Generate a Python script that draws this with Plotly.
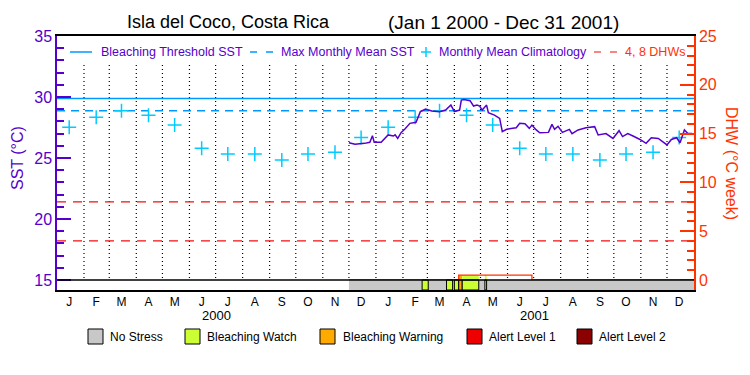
import plotly.graph_objects as go

# ---------------- data ----------------
sst_dates = ['2000-12-01', '2000-12-08', '2000-12-19', '2000-12-25', '2000-12-28', '2000-12-30',
             '2001-01-07', '2001-01-15', '2001-01-21', '2001-01-23', '2001-01-26', '2001-01-30',
             '2001-02-03', '2001-02-09', '2001-02-16', '2001-02-21', '2001-02-27', '2001-03-06',
             '2001-03-15', '2001-03-22', '2001-03-28', '2001-04-01', '2001-04-07', '2001-04-09',
             '2001-04-12', '2001-04-19', '2001-04-23', '2001-04-27', '2001-04-30', '2001-05-03',
             '2001-05-08', '2001-05-10', '2001-05-17', '2001-05-23', '2001-05-26', '2001-05-31',
             '2001-06-07', '2001-06-11', '2001-06-15', '2001-06-21', '2001-06-26', '2001-06-29',
             '2001-07-04', '2001-07-08', '2001-07-18', '2001-07-22', '2001-07-25', '2001-07-29',
             '2001-08-03', '2001-08-11', '2001-08-14', '2001-08-21', '2001-08-30', '2001-09-09',
             '2001-09-13', '2001-09-22', '2001-09-30', '2001-10-07', '2001-10-11', '2001-10-17',
             '2001-10-23', '2001-10-31', '2001-11-07', '2001-11-13', '2001-11-21', '2001-12-01',
             '2001-12-06', '2001-12-12', '2001-12-16', '2001-12-21', '2001-12-25', '2001-12-30']
sst_values = [26.25, 26.12, 26.20, 26.29, 26.83, 26.29,
              26.29, 26.89, 26.80, 26.90, 26.60, 27.10,
              27.35, 27.84, 27.93, 28.80, 29.02, 28.85,
              28.80, 28.93, 29.34, 28.80, 28.93, 29.75,
              29.80, 29.70, 29.26, 29.34, 29.26, 28.93,
              29.34, 28.71, 28.52, 28.25, 27.16, 27.35,
              27.43, 27.48, 27.84, 27.80, 27.43, 27.70,
              27.30, 27.07, 27.10, 27.76, 27.35, 27.60,
              27.10, 27.35, 27.00, 27.30, 27.48, 27.57,
              26.89, 27.00, 26.60, 27.24, 26.76, 27.00,
              26.80, 26.52, 26.20, 26.66, 26.60, 26.07,
              26.52, 26.66, 26.25, 27.30, 27.00, 27.00]

clim_years = ['2000', '2001']
clim_months = ['01', '02', '03', '04', '05', '06', '07', '08', '09', '10', '11', '12']
clim_values = [27.52, 28.33, 28.88, 28.50, 27.70, 25.80, 25.33, 25.33, 24.84, 25.33, 25.47, 26.68]
month_letters = ['J', 'F', 'M', 'A', 'M', 'J', 'J', 'A', 'S', 'O', 'N', 'D']

dhw_dates = ['2000-12-01', '2001-04-06', '2001-06-29', '2001-12-31']
dhw_values = [0.0, 0.5, 0.0, 0.0]
dhw_levels = [4, 8]

data_start = '2000-12-01'
period_start = '2000-01-01'
period_end = '2002-01-01'

stress_start = ['2001-02-23', '2001-03-23', '2001-04-01', '2001-04-06', '2001-04-10', '2001-05-06']
stress_end = ['2001-03-02', '2001-03-30', '2001-04-06', '2001-04-10', '2001-04-29', '2001-05-08']
stress_level = [1, 1, 1, 2, 1, 1]
stress_names = ['No Stress', 'Bleaching Watch', 'Bleaching Warning', 'Alert Level 1', 'Alert Level 2']
stress_colors = ['#C8C8C8', '#CCFF33', '#FFAA00', '#EE0000', '#8B0000']

# ---------------- style ----------------
PURPLE = '#5500CC'
ORANGE = '#FF3300'
BLUE = '#0099FF'
CYAN = '#00CCFF'
RED = '#EE1111'
FONT = 'Liberation Sans'

W, H = 750, 375
L, R, T, B = 57, 694, 36, 290
SST_LO = 15 - 10 * 20 / 244.0
DHW_LO = -10 * 25 / 244.0


def px_x(px):
    return (px - L) / (R - L)


def px_y(py):
    return (B - py) / (B - T)


mmm = max(clim_values)
threshold = mmm + 1.0

fig = go.Figure()

# horizontal reference lines
fig.add_trace(go.Scatter(x=[period_start, period_end], y=[threshold, threshold], mode='lines',
                         line=dict(color=BLUE, width=1.5), hoverinfo='skip'))
fig.add_trace(go.Scatter(x=[period_start, period_end], y=[mmm, mmm], mode='lines',
                         line=dict(color=BLUE, width=1.5, dash='8px,6px'), hoverinfo='skip'))
for lev in dhw_levels:
    fig.add_trace(go.Scatter(x=[period_start, period_end], y=[lev, lev], mode='lines', yaxis='y2',
                             line=dict(color=RED, width=1.2, dash='9px,7px'), hoverinfo='skip'))

# climatology crosses
clim_x = [f'{yr}-{m}-15' for yr in clim_years for m in clim_months]
clim_y = [v for yr in clim_years for v in clim_values]
fig.add_trace(go.Scatter(x=clim_x, y=clim_y, mode='markers',
                         marker=dict(symbol='cross-thin', size=10, line=dict(color=CYAN, width=1.5)),
                         hoverinfo='skip'))

# SST line
fig.add_trace(go.Scatter(x=sst_dates, y=sst_values, mode='lines',
                         line=dict(color=PURPLE, width=1.5), hoverinfo='skip'))

# DHW line
fig.add_trace(go.Scatter(x=dhw_dates, y=dhw_values, mode='lines', yaxis='y2', line_shape='hv',
                         line=dict(color=ORANGE, width=1.3), hoverinfo='skip'))

shapes = []
# dotted month separators
month_bounds = [f'{yr}-{m}-01' for yr in clim_years for m in clim_months][1:]
for d in month_bounds:
    shapes.append(dict(type='line', xref='x', yref='y', x0=d, x1=d, y0=15.16, y1=32.8,
                       line=dict(color='black', width=1.2, dash='1px,3px'), layer='below'))


def dhw_at(date):
    val = dhw_values[0]
    for dd, vv in zip(dhw_dates, dhw_values):
        if dd <= date:
            val = vv
    return val


# stress bar
shapes.append(dict(type='rect', xref='x', yref='y', x0=data_start, x1=period_end, y0=SST_LO, y1=15,
                   fillcolor=stress_colors[0], line=dict(width=0), layer='above'))
for s0, s1, lv in zip(stress_start, stress_end, stress_level):
    shapes.append(dict(type='rect', xref='x', yref='y', x0=s0, x1=s1, y0=SST_LO, y1=15,
                       fillcolor=stress_colors[lv], line=dict(color='black', width=1), layer='above'))
    h = dhw_at(s0)
    if h > 0:
        shapes.append(dict(type='rect', xref='x', yref='y2', x0=s0, x1=s1, y0=0, y1=h,
                           fillcolor=stress_colors[lv], line=dict(width=0), layer='below'))
shapes.append(dict(type='line', xref='paper', yref='y', x0=0, x1=1, y0=15, y1=15,
                   line=dict(color='black', width=1.5), layer='above'))

annotations = []
# title
annotations.append(dict(text='Isla del Coco, Costa Rica', xref='paper', yref='paper',
                        x=px_x(228), y=px_y(22), showarrow=False,
                        font=dict(family=FONT, size=18, color='black'), xanchor='center', yanchor='middle'))
annotations.append(dict(text='(Jan 1 2000 - Dec 31 2001)', xref='paper', yref='paper',
                        x=px_x(503), y=px_y(22), showarrow=False,
                        font=dict(family=FONT, size=19, color='black'), xanchor='center', yanchor='middle'))

# top legend
ly = px_y(52)
shapes.append(dict(type='line', xref='paper', yref='paper', x0=px_x(70), x1=px_x(92), y0=ly, y1=ly,
                   line=dict(color=BLUE, width=1.5)))
shapes.append(dict(type='line', xref='paper', yref='paper', x0=px_x(250), x1=px_x(274), y0=ly, y1=ly,
                   line=dict(color=BLUE, width=1.5, dash='7px,9px')))
shapes.append(dict(type='line', xref='paper', yref='paper', x0=px_x(421), x1=px_x(431), y0=ly, y1=ly,
                   line=dict(color=CYAN, width=1.5)))
shapes.append(dict(type='line', xref='paper', yref='paper', x0=px_x(426), x1=px_x(426), y0=px_y(47), y1=px_y(57),
                   line=dict(color=CYAN, width=1.5)))
shapes.append(dict(type='line', xref='paper', yref='paper', x0=px_x(594), x1=px_x(618), y0=ly, y1=ly,
                   line=dict(color=RED, width=1.2, dash='7px,9px')))
for txt, px, col in [('Bleaching Threshold SST', 99, PURPLE), ('Max Monthly Mean SST', 279, PURPLE),
                     ('Monthly Mean Climatology', 437, PURPLE), ('4, 8 DHWs', 623, ORANGE)]:
    annotations.append(dict(text=txt, xref='paper', yref='paper', x=px_x(px), y=ly, showarrow=False,
                            xanchor='left', yanchor='middle', font=dict(family=FONT, size=12.5, color=col)))

# bottom legend
sq = [(88, 108), (185, 205), (320, 341), (467, 487), (577, 597)]
for (sx, tx), name, col in zip(sq, stress_names, stress_colors):
    shapes.append(dict(type='rect', xref='paper', yref='paper', x0=px_x(sx), x1=px_x(sx + 15),
                       y0=px_y(344), y1=px_y(329), fillcolor=col, line=dict(color='black', width=1)))
    annotations.append(dict(text=name, xref='paper', yref='paper', x=px_x(tx), y=px_y(336.5), showarrow=False,
                            xanchor='left', yanchor='middle', font=dict(family=FONT, size=12, color='black')))

# year labels
for yr in clim_years:
    annotations.append(dict(text=yr, xref='x', yref='paper', x=f'{yr}-07-02', y=px_y(315.5), showarrow=False,
                            xanchor='center', yanchor='middle', font=dict(family=FONT, size=13, color='black')))

# axis titles
annotations.append(dict(text='SST (°C)', xref='paper', yref='paper', x=px_x(17), y=px_y(158), showarrow=False,
                        textangle=-90, xanchor='center', yanchor='middle',
                        font=dict(family=FONT, size=16, color=PURPLE)))
annotations.append(dict(text='DHW (°C week)', xref='paper', yref='paper', x=px_x(732), y=px_y(163), showarrow=False,
                        textangle=90, xanchor='center', yanchor='middle',
                        font=dict(family=FONT, size=16, color=ORANGE)))

fig.update_layout(
    width=W, height=H, margin=dict(l=L, r=W - R, t=T, b=H - B, autoexpand=False),
    paper_bgcolor='white', plot_bgcolor='white', showlegend=False,
    font=dict(family=FONT),
    xaxis=dict(type='date', range=[period_start, period_end], showgrid=False, zeroline=False,
               showline=True, linecolor='black', linewidth=1.5, mirror=True, automargin=False,
               tickmode='array', tickvals=clim_x, ticktext=month_letters * 2, ticks='',
               tickfont=dict(family=FONT, size=12, color='black')),
    yaxis=dict(range=[SST_LO, 35], showgrid=False, zeroline=False, showline=True, linecolor=PURPLE, linewidth=1.5,
               automargin=False,
               tickmode='array', tickvals=[15, 20, 25, 30, 35], ticks='inside', ticklen=14, tickwidth=1.5,
               tickcolor=PURPLE, tickfont=dict(family=FONT, size=16, color=PURPLE),
               minor=dict(tickmode='array', tickvals=list(range(15, 36)), ticks='inside', ticklen=7,
                          tickwidth=1.5, tickcolor=PURPLE, showgrid=False)),
    yaxis2=dict(range=[DHW_LO, 25], overlaying='y', side='right', showgrid=False, zeroline=False,
                showline=True, linecolor=ORANGE, linewidth=1.5, automargin=False,
                tickmode='array', tickvals=[0, 5, 10, 15, 20, 25], ticks='inside', ticklen=14, tickwidth=1.5,
                tickcolor=ORANGE, tickfont=dict(family=FONT, size=16, color=ORANGE),
                minor=dict(tickmode='array', tickvals=list(range(0, 26)), ticks='inside', ticklen=7,
                           tickwidth=1.5, tickcolor=ORANGE, showgrid=False)),
    shapes=shapes, annotations=annotations,
)

fig.write_html('out.html', config={'displayModeBar': False},
               post_script="document.body.style.margin='0';document.body.style.overflow='hidden';")
